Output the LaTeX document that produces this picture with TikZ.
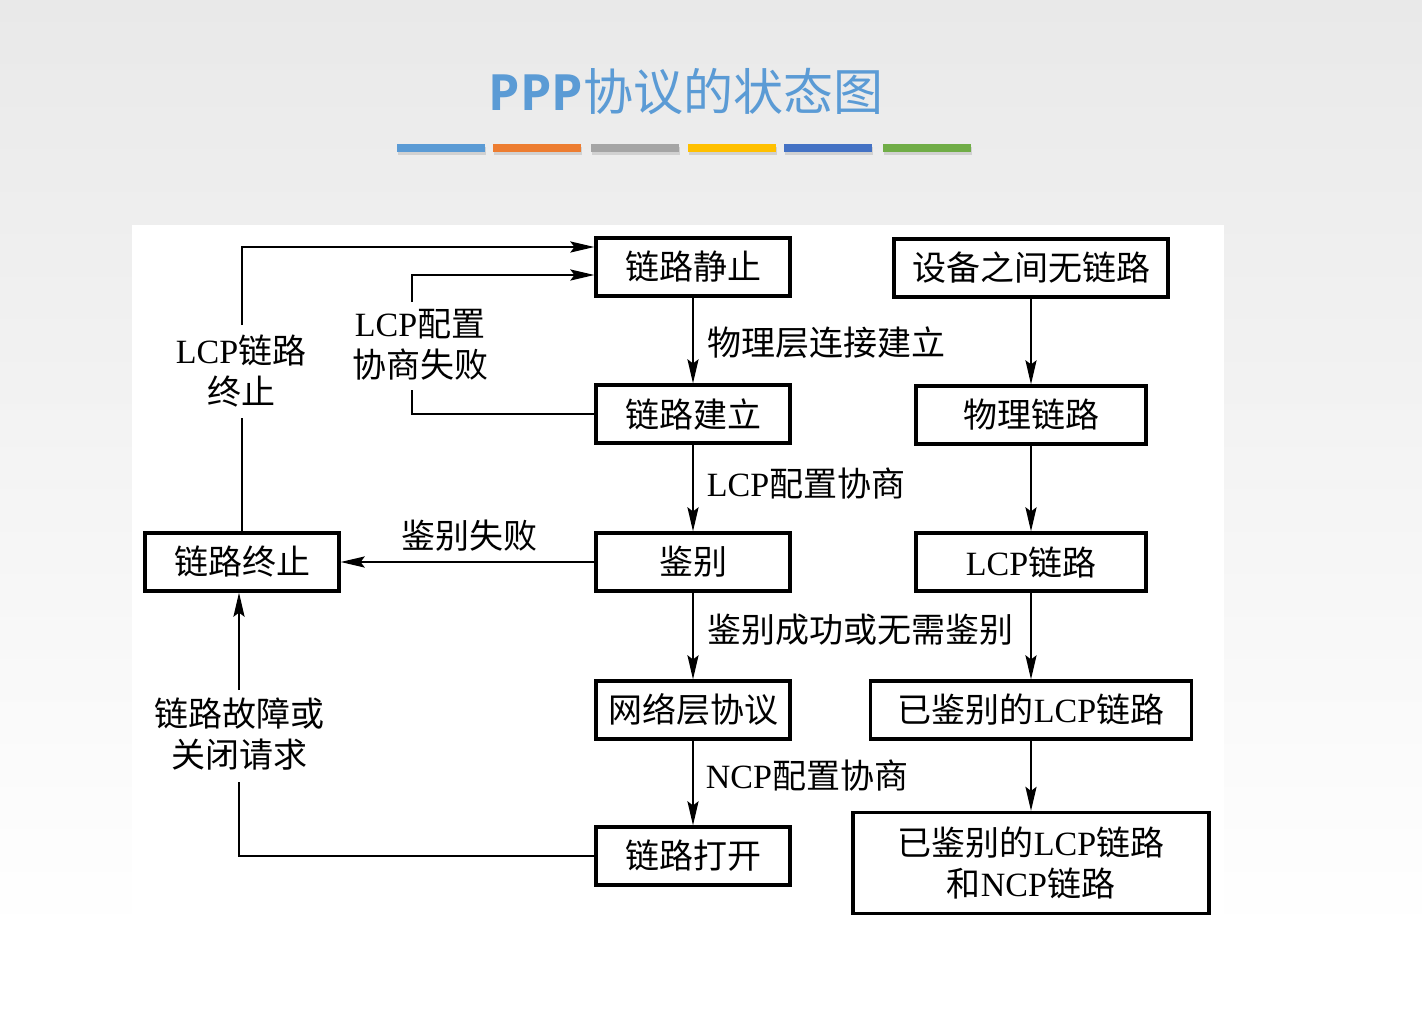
\documentclass[tikz,border=0pt]{standalone}
\usepackage{fontspec}
\setmainfont{Liberation Serif}
\newfontfamily\cjk{Noto Sans CJK SC}
\newfontfamily\titlefont{Open Sans}
\usetikzlibrary{arrows.meta}
\newcommand{\zh}[1]{{\cjk #1}}
\newcommand{\diafont}{\fontsize{34}{41}\selectfont}
\definecolor{titleblue}{RGB}{91,155,213}
\definecolor{bgtop}{RGB}{233,233,233}
\definecolor{barA}{RGB}{91,155,213}
\definecolor{barB}{RGB}{237,125,49}
\definecolor{barC}{RGB}{165,165,165}
\definecolor{barD}{RGB}{255,192,0}
\definecolor{barE}{RGB}{68,114,196}
\definecolor{barF}{RGB}{112,173,71}
\tikzset{
  state/.style={draw, line width=3.2pt, minimum height=58pt, inner sep=0pt, font=\diafont},
  trans/.style={line width=2.4pt, -{Stealth[length=24pt,width=11pt,inset=4pt]}},
  plain/.style={line width=2.4pt},
  lbl/.style={font=\diafont, align=center, inner sep=0pt},
}
\begin{document}
\begin{tikzpicture}[x=1pt,y=-1pt]
  \useasboundingbox (0,0) rectangle (1422,1012);
  % slide background
  \fill[white] (0,0) rectangle (1422,1012);
  \fill[top color=bgtop, bottom color=white] (0,0) rectangle (1422,935);
  \fill[white] (132,225) rectangle (1224,940);

  % title and colour bars
  \node (title) at (686,92) {\fontsize{50}{60}\selectfont\color{titleblue}{\titlefont\bfseries PPP}\zh{协议的状态图}};
  \foreach \x/\c in {397/barA, 493/barB, 591/barC, 688/barD, 784/barE, 883/barF} {
    \fill[black!18] (\x+1,147) rectangle (\x+89,155);
    \fill[\c] (\x,144) rectangle (\x+88,152);
  }

  % states of the link
  \node[state, minimum width=194pt] (quiet) at (693,267) {\zh{链路静止}};
  \node[state, minimum width=194pt] (setup) at (693,414) {\zh{链路建立}};
  \node[state, minimum width=194pt] (auth)  at (693,562) {\zh{鉴别}};
  \node[state, minimum width=194pt] (netp)  at (693,710) {\zh{网络层协议}};
  \node[state, minimum width=194pt] (open)  at (693,856) {\zh{链路打开}};
  \node[state, minimum width=194pt] (term)  at (242,562) {\zh{链路终止}};

  % what exists between the devices
  \node[state, minimum width=274pt] (nolink) at (1031,268) {\zh{设备之间无链路}};
  \node[state, minimum width=230pt] (phys)   at (1031,415) {\zh{物理链路}};
  \node[state, minimum width=230pt] (lcpl)   at (1031,562) {LCP\zh{链路}};
  \node[state, minimum width=321pt] (authl)  at (1031,710) {\zh{已鉴别的}LCP\zh{链路}};
  \node[state, minimum width=356pt, minimum height=101pt, align=center] (ncpl) at (1031,863)
       {\zh{已鉴别的}LCP\zh{链路}\\\zh{和}NCP\zh{链路}};

  % labels
  \node[lbl] (lphy)  at (826,343) {\zh{物理层连接建立}};
  \node[lbl] (llcp)  at (806,484) {LCP\zh{配置协商}};
  \node[lbl] (lfail) at (469,536) {\zh{鉴别失败}};
  \node[lbl] (lok)   at (860,630) {\zh{鉴别成功或无需鉴别}};
  \node[lbl] (lncp)  at (807,776) {NCP\zh{配置协商}};
  \node[lbl] (lend)  at (241,371) {LCP\zh{链路}\\\zh{终止}};
  \node[lbl] (lneg)  at (420,345) {LCP\zh{配置}\\\zh{协商失败}};
  \node[lbl] (lbrk)  at (239,734) {\zh{链路故障或}\\\zh{关闭请求}};

  % gaps round the labels
  \coordinate (t1) at (242,418);
  \coordinate (t2) at (242,325);
  \coordinate (f1) at (412,390);
  \coordinate (f2) at (412,302);
  \coordinate (b1) at (239,782);
  \coordinate (b2) at (239,690);
  \coordinate (in1) at (quiet.west |- 0,247);
  \coordinate (in2) at (quiet.west |- 0,275);

  % main path
  \draw[trans] (quiet) -- (setup);
  \draw[trans] (setup) -- (auth);
  \draw[trans] (auth)  -- (netp);
  \draw[trans] (netp)  -- (open);
  \draw[trans] (auth)  -- (term);

  % back to the quiet state
  \draw[plain] (term) -- (t1);
  \draw[trans] (t2) |- (in1);
  \draw[plain] (setup.west) -| (f1);
  \draw[trans] (f2) |- (in2);
  \draw[plain] (open.west) -| (b1);
  \draw[trans] (b2) -- (b2 |- term.south);

  % right column
  \draw[trans] (nolink) -- (phys);
  \draw[trans] (phys)   -- (lcpl);
  \draw[trans] (lcpl)   -- (authl);
  \draw[trans] (authl)  -- (ncpl);
\end{tikzpicture}
\end{document}
